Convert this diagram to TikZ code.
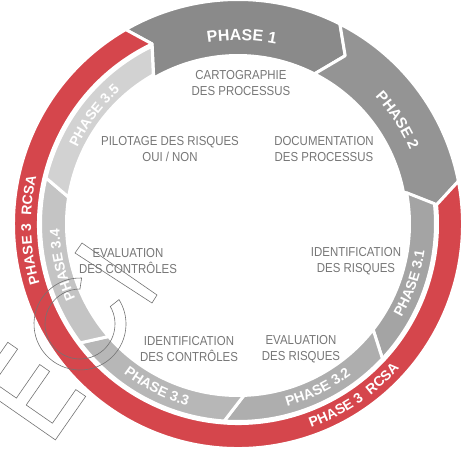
\documentclass[tikz,border=0pt]{standalone}
\usepackage{fontspec}
\setmainfont{Liberation Sans}
\newfontfamily\lblfont[FakeStretch=0.88]{Liberation Sans}
\usetikzlibrary{decorations.text}
\definecolor{pone}{RGB}{138,138,138}
\definecolor{ptwo}{RGB}{148,148,148}
\definecolor{pthreeone}{RGB}{164,164,164}
\definecolor{pthreetwo}{RGB}{174,174,174}
\definecolor{pthreethree}{RGB}{183,183,183}
\definecolor{pthreefour}{RGB}{196,196,196}
\definecolor{pthreefive}{RGB}{210,210,210}
\definecolor{rcsared}{RGB}{213,70,76}
\definecolor{labgray}{RGB}{118,118,118}
\definecolor{wmgray}{RGB}{115,115,115}
\newcommand\phbig{\bfseries\fontsize{16}{16}\selectfont}
\newcommand\phmid{\bfseries\fontsize{15}{15}\selectfont}
\newcommand\phsml{\bfseries\fontsize{14}{14}\selectfont}
\begin{document}
\begin{tikzpicture}[x=1pt,y=1pt,
  band/.style={draw=white, line width=3pt, line join=round},
  lbl/.style={font=\lblfont\fontsize{13}{15.5}\selectfont, text=labgray, align=center, inner sep=0pt},
  wm/.style={draw=wmgray, line width=0.6pt},
  ph/.style={decorate, decoration={text along path, text align=center, text color=white, text={#1}}}
]
\useasboundingbox (-238,-226) rectangle (231,224);

% ---- outer ring: phase 1 and phase 2
\path[band, fill=pone] (120:224.5) arc[start angle=120, end angle=63, radius=224.5]
  -- (57.5:199.5) -- (63:168.5) arc[start angle=63, end angle=120, radius=168.5]
  -- (115.5:199.5) -- cycle;
\path[band, fill=ptwo] (63:224.5) arc[start angle=63, end angle=11, radius=224.5]
  -- (5.5:199.5) -- (11:168.5) arc[start angle=11, end angle=63, radius=168.5]
  -- (57.5:199.5) -- cycle;

% ---- phase 3 RCSA red ring
\path[band, fill=rcsared] (11:224.5) arc[start angle=11, end angle=-240, radius=224.5]
  -- (-244.5:199.5) arc[start angle=-244.5, end angle=5.5, radius=199.5] -- cycle;

% ---- sub-phases 3.1 .. 3.5
\path[band, fill=pthreeone] (5.9:197.5) arc[start angle=5.9, end angle=-43, radius=197.5]
  -- (-38:171.5) arc[start angle=-38, end angle=10.5, radius=171.5] -- cycle;
\path[band, fill=pthreetwo] (-43:197.5) arc[start angle=-43, end angle=-94, radius=197.5]
  -- (-88:171.5) arc[start angle=-88, end angle=-38, radius=171.5] -- cycle;
\path[band, fill=pthreethree] (-94:197.5) arc[start angle=-94, end angle=-143, radius=197.5]
  -- (-139:171.5) arc[start angle=-139, end angle=-88, radius=171.5] -- cycle;
\path[band, fill=pthreefour] (-143:197.5) arc[start angle=-143, end angle=-193.5, radius=197.5]
  -- (-189:171.5) arc[start angle=-189, end angle=-139, radius=171.5] -- cycle;
\path[band, fill=pthreefive] (-193.5:197.5) arc[start angle=-193.5, end angle=-244.2, radius=197.5]
  -- (-240.4:171.5) arc[start angle=-240.4, end angle=-189, radius=171.5] -- cycle;

% ---- curved phase labels
\path[ph={|\phbig|PHASE 1}] (128.8:183.8) arc[start angle=128.8, end angle=48.8, radius=183.8];
\path[ph={|\phmid|PHASE 2}] (73:187) arc[start angle=73, end angle=-7, radius=187];
\path[ph={|\phsml|PHASE 3.1}] (-59:188.5) arc[start angle=-59, end angle=21, radius=188.5];
\path[ph={|\phsml|PHASE 3.2}] (-104:188.5) arc[start angle=-104, end angle=-24, radius=188.5];
\path[ph={|\phsml|PHASE 3.3}] (-156.5:188.5) arc[start angle=-156.5, end angle=-76.5, radius=188.5];
\path[ph={|\phsml|PHASE 3.4}] (233:178.5) arc[start angle=233, end angle=153, radius=178.5];
\path[ph={|\phsml|PHASE 3.5}] (183:178) arc[start angle=183, end angle=103, radius=178];
\path[ph={|\phsml|PHASE 3{\kern8pt}RCSA}] (-106:216.5) arc[start angle=-106, end angle=-6, radius=216.5];
\path[ph={|\phsml|PHASE 3{\kern8pt}RCSA}] (231.7:207) arc[start angle=231.7, end angle=131.7, radius=207];

% ---- inner labels (image coordinates)
\begin{scope}[shift={(-238,224)}, yscale=-1]
\node[lbl] (cart) at (241,83) {CARTOGRAPHIE\\DES PROCESSUS};
\node[lbl] (docu) at (324,149) {DOCUMENTATION\\DES PROCESSUS};
\node[lbl] (pilo) at (170,149) {PILOTAGE DES RISQUES\\OUI / NON};
\node[lbl] (idri) at (356,261) {IDENTIFICATION\\DES RISQUES};
\node[lbl] (evco) at (128,261) {EVALUATION\\DES CONTRÔLES};
\node[lbl] (idco) at (189,349) {IDENTIFICATION\\DES CONTRÔLES};
\node[lbl] (evri) at (301,349) {EVALUATION\\DES RISQUES};

% ---- watermark outlines
\begin{scope}
\clip (0,0) rectangle (469,450);
\draw[wm] (75,253) -- (82,243) -- (157,295) -- (152,303) -- cycle;
\draw[wm] (-22.5,385.7) -- (7.8,342.3) -- (17.6,349.1) -- (-5.8,382.7) -- (16.4,398.1)
  -- (39.7,364.5) -- (49.6,371.4) -- (26.2,405.0) -- (52.4,423.2) -- (75.8,389.6)
  -- (85.7,396.4) -- (55.4,439.9) -- cycle;
\end{scope}
\end{scope}
\begin{scope}[shift={(-158,-100)}]
\draw[wm] (88:46) arc[start angle=88, end angle=392, radius=46]
  -- (390:35) arc[start angle=390, end angle=90, radius=35] -- cycle;
\end{scope}
\end{tikzpicture}
\end{document}
